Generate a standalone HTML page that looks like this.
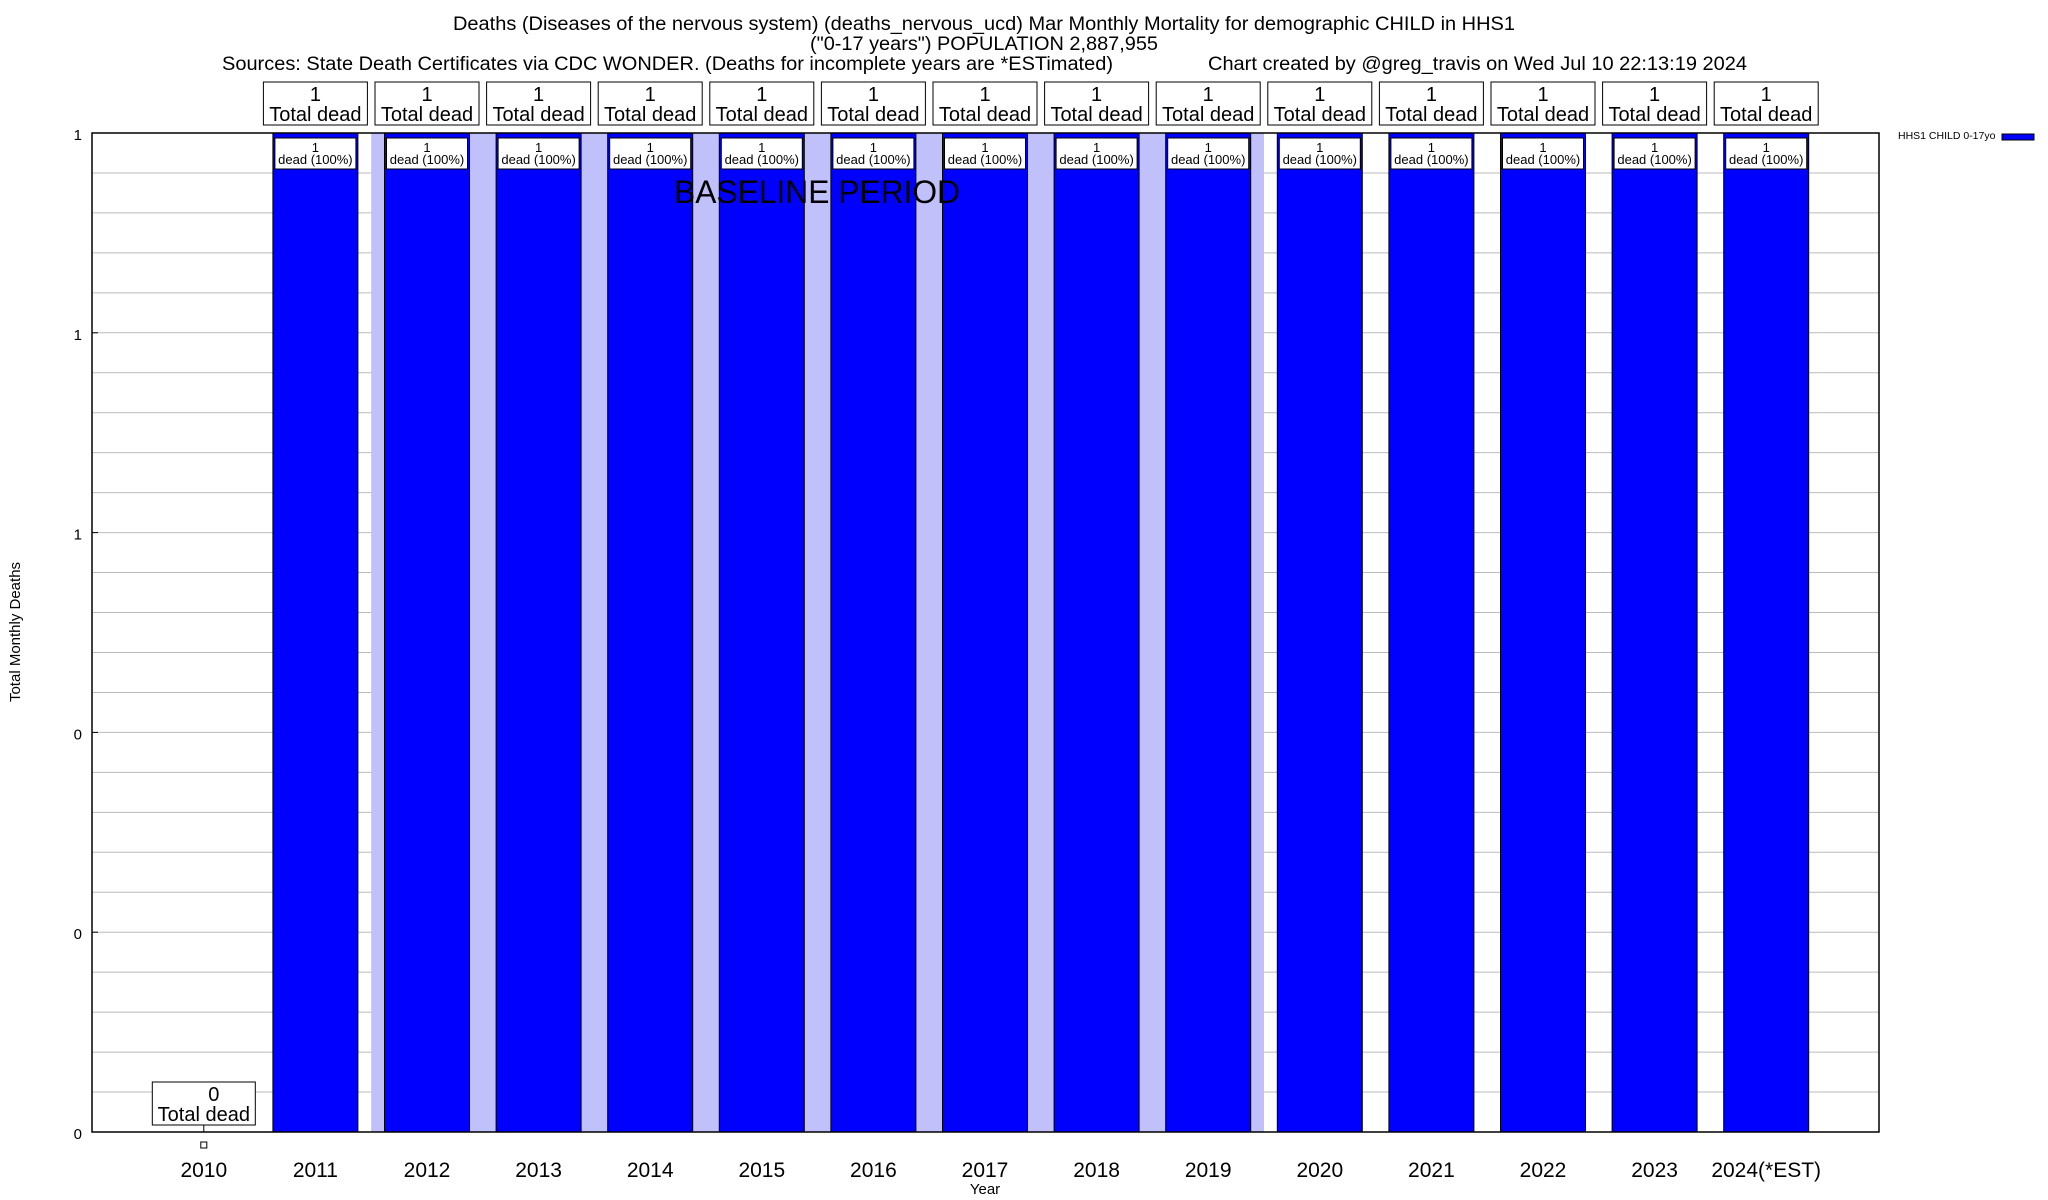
<!DOCTYPE html>
<html><head><meta charset="utf-8"><style>
html,body{margin:0;padding:0;background:#fff;}
svg{display:block;font-family:"Liberation Sans",sans-serif;}
</style></head><body>
<svg id="chart" width="2048" height="1200" xmlns="http://www.w3.org/2000/svg">
<text x="984" y="30" font-size="19" text-anchor="middle" textLength="1062" lengthAdjust="spacingAndGlyphs">Deaths (Diseases of the nervous system) (deaths_nervous_ucd) Mar Monthly Mortality for demographic CHILD in HHS1</text>
<text x="984" y="50" font-size="19" text-anchor="middle" textLength="348" lengthAdjust="spacingAndGlyphs">("0-17 years") POPULATION 2,887,955</text>
<text x="222" y="70" font-size="19" textLength="891" lengthAdjust="spacingAndGlyphs">Sources: State Death Certificates via CDC WONDER. (Deaths for incomplete years are *ESTimated)</text>
<text x="1208" y="70" font-size="19" textLength="539" lengthAdjust="spacingAndGlyphs">Chart created by @greg_travis on Wed Jul 10 22:13:19 2024</text>
<g id="plot"></g>
<text x="985" y="1194" font-size="15" text-anchor="middle">Year</text>
<text transform="translate(20,632) rotate(-90)" font-size="15" text-anchor="middle">Total Monthly Deaths</text>
<text x="1898" y="139" font-size="10.5">HHS1 CHILD 0-17yo</text>
<rect x="2002" y="134" width="32" height="6" fill="#0000ff" stroke="#000" stroke-width="1"/>
</svg>
<script>
const categories = ["2010","2011","2012","2013","2014","2015","2016","2017","2018","2019","2020","2021","2022","2023","2024(*EST)"];
const values = [0,1,1,1,1,1,1,1,1,1,1,1,1,1,1];
const pctLabels = ["","100%","100%","100%","100%","100%","100%","100%","100%","100%","100%","100%","100%","100%","100%"];
const yTicks = [0,0.2,0.4,0.6,0.8,1];
const baselineStart = "2012";
const baselineEnd = "2019";

const NS="http://www.w3.org/2000/svg";
const L=92,R=1879,T=133,B=1132;
const yMax=1;
const x0=203.8, step=111.6, barW=85;
function xs(i){return x0+i*step;}
function ys(v){return B-(v/yMax)*(B-T);}
const g=document.getElementById('plot');
function mk(tag,attrs,parent){const e=document.createElementNS(NS,tag);for(const k in attrs)e.setAttribute(k,attrs[k]);(parent||g).appendChild(e);return e;}

// grid
for(let v=0;v<=yMax+1e-9;v+=0.04){
  const y=ys(v);
  const ln=mk('line',{x1:L,x2:R,y1:y,y2:y,stroke:'#bbb','stroke-width':1});
  
  
}
// baseline band
const bs=categories.indexOf(baselineStart), be=categories.indexOf(baselineEnd);
const band=mk('rect',{x:xs(bs)-step/2,y:T,width:(be-bs+1)*step,height:B-T,fill:'#c0c0fa'});


// bars
categories.forEach((c,i)=>{
  const v=values[i];const cx=xs(i);
  if(v>0){
    const r=mk('rect',{x:cx-barW/2,y:ys(v),width:barW,height:B-ys(v),fill:'#0000ff',stroke:'#000','stroke-width':1});
    
    
    const ib=mk('rect',{x:cx-40.5,y:ys(v)+5,width:81,height:31,fill:'#fff',stroke:'#000','stroke-width':1});
    
    
    const t1=mk('text',{x:cx,y:ys(v)+19,'font-size':13,'text-anchor':'middle'});t1.textContent=String(Math.round(v));
    
    
    const t2=mk('text',{x:cx,y:ys(v)+31,'font-size':13,'text-anchor':'middle'});t2.textContent='dead ('+pctLabels[i]+')';
    
    
    const tb=mk('rect',{x:cx-52,y:82,width:104,height:43,fill:'#fff',stroke:'#000','stroke-width':1});
    
    
    const a=mk('text',{x:cx,y:101,'font-size':20,'text-anchor':'middle'});a.textContent=String(Math.round(v));
    
    
    const b=mk('text',{x:cx,y:121,'font-size':20,'text-anchor':'middle'});b.textContent='Total dead';
    
    
  } else {
    const tl=mk('line',{x1:cx,x2:cx,y1:B-7,y2:B,stroke:'#000','stroke-width':1});
    
    
    const tb=mk('rect',{x:cx-51.5,y:B-50,width:103,height:43,fill:'#fff',stroke:'#000','stroke-width':1});
    
    
    const a=mk('text',{x:cx+10,y:B-31,'font-size':20,'text-anchor':'middle'});a.textContent=String(v);
    
    
    const b=mk('text',{x:cx,y:B-11,'font-size':20,'text-anchor':'middle'});b.textContent='Total dead';
    
    
    const m=mk('rect',{x:cx-3,y:B+10,width:6,height:6,fill:'#fff',stroke:'#000','stroke-width':1});
    
    
  }
  const xl=mk('text',{x:cx,y:1177,'font-size':21,'text-anchor':'middle'});xl.textContent=c;
  
  
});
// baseline text
const bt=mk('text',{x:674,y:203,'font-size':32,textLength:286,lengthAdjust:'spacingAndGlyphs'});bt.textContent='BASELINE PERIOD';


// y ticks
yTicks.forEach(v=>{
  const y=ys(v);
  const t=mk('text',{x:82,y:y+7,'font-size':15,'text-anchor':'end'});t.textContent=String(Math.round(v));
  
  
  const tk=mk('line',{x1:L,x2:L+6,y1:y,y2:y,stroke:'#000','stroke-width':1});
  
  
});
const fr=mk('rect',{x:L,y:T,width:R-L,height:B-T,fill:'none',stroke:'#000','stroke-width':1.5});


</script>
</body></html>
